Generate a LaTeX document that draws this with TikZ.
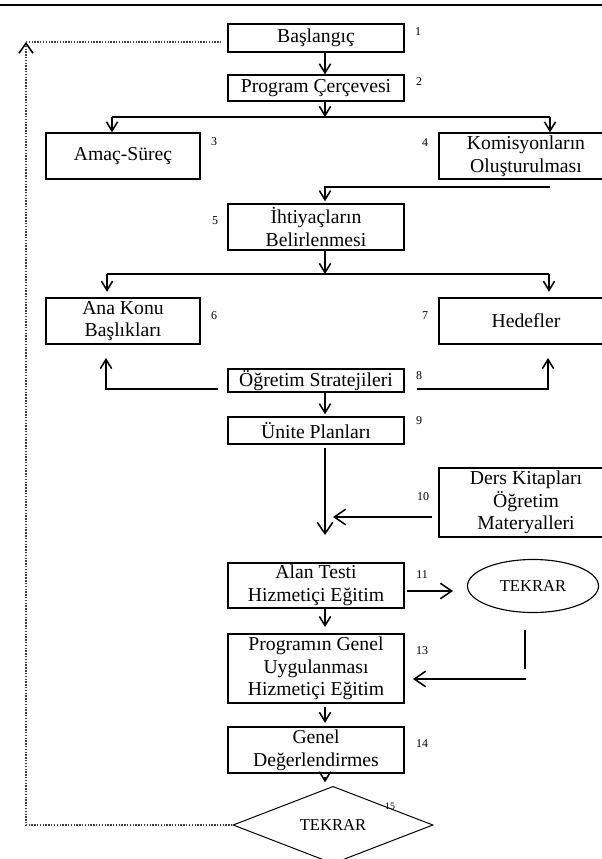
\documentclass[tikz,border=0pt]{standalone}
\usepackage{fontspec}
\setmainfont{Liberation Serif}
\usetikzlibrary{arrows.meta, shapes.geometric}

\begin{document}
\begin{tikzpicture}[x=0.025cm, y=-0.025cm,
    box/.style={draw, line width=0.9pt, inner sep=0pt, align=center,
        font=\fontsize{14}{16.2}\selectfont},
    num/.style={inner sep=0pt, font=\fontsize{8.5}{9}\selectfont},
    arr/.style={line width=1.1pt, -{Straight Barb[length=6.5pt, width=8pt, line width=1.1pt]}},
    bigarr/.style={line width=1.1pt, -{Straight Barb[length=8pt, width=11pt, line width=1.1pt]}},
    fb/.style={line width=1pt, densely dotted, black!75}]

    \useasboundingbox (0,0) rectangle (602,859);

    % Top rule
    \draw[line width=1.4pt] (0,5) -- (602,5);

    % Boxes
    \node[box, minimum width=4.4cm, minimum height=0.7cm] (bas) at (316,38) {Başlangıç};
    \node[box, minimum width=4.4cm, minimum height=0.65cm] (cerceve) at (316,88) {Program Çerçevesi};
    \node[box, minimum width=3.85cm, minimum height=1.15cm] (amac) at (123,156) {Amaç-Süreç};
    \node[box, minimum width=4.35cm, minimum height=1.15cm] (komisyon) at (526,156) {Komisyonların\\Oluşturulması};
    \node[box, minimum width=4.4cm, minimum height=1.15cm] (ihtiyac) at (316,227) {İhtiyaçların\\Belirlenmesi};
    \node[box, minimum width=3.85cm, minimum height=1.15cm] (konu) at (123,321) {Ana Konu\\Başlıkları};
    \node[box, minimum width=4.35cm, minimum height=1.15cm] (hedef) at (526,321) {Hedefler};
    \node[box, minimum width=4.4cm, minimum height=0.575cm] (strateji) at (316,380.5) {Öğretim Stratejileri};
    \node[box, minimum width=4.4cm, minimum height=0.675cm] (unite) at (316,430.5) {Ünite Planları};
    \node[box, minimum width=4.35cm, minimum height=1.725cm] (kitap) at (526,502.5) {Ders Kitapları\\Öğretim\\Materyalleri};
    \node[box, minimum width=4.4cm, minimum height=1.125cm] (alan) at (316,585.5) {Alan Testi\\Hizmetiçi Eğitim};
    \node[draw, ellipse, line width=0.8pt, minimum width=3.275cm, minimum height=1.325cm, inner sep=0pt,
        font=\fontsize{11.8}{13}\selectfont] (tekrar) at (533,586) {TEKRAR};
    \node[box, minimum width=4.4cm, minimum height=1.725cm] (uygulama) at (316,668.5) {Programın Genel\\Uygulanması\\Hizmetiçi Eğitim};
    \node[box, minimum width=4.4cm, minimum height=1.15cm] (genel) at (316,750) {Genel\\Değerlendirmes};
    \node[draw, diamond, line width=0.7pt, minimum width=5cm, minimum height=1.3cm, inner sep=0pt,
        font=\fontsize{11.8}{13}\selectfont] (karar) at (333,825) {TEKRAR};

    % Step numbers
    \foreach \n/\x/\y in {1/418/32, 2/419/82, 3/214/142, 4/425/143, 5/215/221, 6/214/316,
        7/425/316, 8/419/376, 9/419/421, 10/423/497, 11/422/575, 13/422/651, 14/422/744}
        \node[num] (n\n) at (\x,\y) {\n};
    \node[num, font=\fontsize{7}{8}\selectfont] (n15) at (390,806) {15};

    % Main column
    \coordinate (spine) at (325,0);
    \draw[arr] (bas.south -| spine) -- (cerceve.north -| spine);

    % Split under Program Cercevesi
    \coordinate (s1) at (325,117);
    \coordinate (s1l) at (112,117);
    \coordinate (s1r) at (550,117);
    \draw[arr] (cerceve.south -| spine) -- (s1);
    \draw[line width=1.1pt] (s1l) -- (s1r);
    \draw[arr] (s1l) -- (s1l |- amac.north);
    \draw[arr] (s1r) -- (s1r |- komisyon.north);

    % Komisyonlar to Ihtiyaclar
    \coordinate (k1) at (550,187);
    \draw[arr, shorten >=1.5pt] (k1) -| (ihtiyac.north -| spine);

    % Split under Ihtiyaclar
    \coordinate (s2) at (325,274);
    \coordinate (s2l) at (107,274);
    \coordinate (s2r) at (549,274);
    \draw[arr] (ihtiyac.south -| spine) -- (s2);
    \draw[line width=1.1pt] (s2l) -- (s2r);
    \draw[arr, shorten >=4pt] (s2l) -- (s2l |- konu.north);
    \draw[arr, shorten >=4pt] (s2r) -- (s2r |- hedef.north);

    % Ogretim Stratejileri to both sides
    \coordinate (o1) at (218,389);
    \coordinate (o1t) at (106,358);
    \coordinate (o2) at (417,389);
    \coordinate (o2t) at (548,358);
    \draw[arr] (o1) -| (o1t);
    \draw[arr] (o2) -| (o2t);
    \draw[arr, shorten >=1.5pt] (strateji.south -| spine) -- (unite.north -| spine);

    % Unite Planlari, Ders Kitaplari
    \coordinate (u1) at (325,448);
    \coordinate (u2) at (325,535);
    \draw[bigarr] (u1) -- (u2);
    \coordinate (d1) at (432,517);
    \coordinate (d2) at (333,517);
    \draw[bigarr] (d1) -- (d2);

    % Alan Testi and TEKRAR
    \coordinate (a1) at (407,591);
    \coordinate (a2) at (453,591);
    \draw[bigarr] (a1) -- (a2);
    \draw[arr, shorten >=4.5pt] (alan.south -| spine) -- (uygulama.north -| spine);
    \coordinate (r1) at (525,630);
    \coordinate (r2) at (525,669);
    \coordinate (r3) at (526,679);
    \coordinate (r4) at (413,679);
    \draw[line width=1.1pt] (r1) -- (r2);
    \draw[bigarr] (r3) -- (r4);

    % Lower column
    \draw[arr, shorten <=2.5pt, shorten >=2.5pt] (uygulama.south -| spine) -- (genel.north -| spine);
    \draw[arr, shorten <=2.5pt, shorten >=2.5pt] (genel.south -| spine) -- (spine |- karar.north);

    % Feedback loop
    \coordinate (f1) at (26,42);
    \coordinate (f2) at (221,42);
    \draw[fb, -{Straight Barb[black, length=7pt, width=10pt, line width=1.1pt]}] (karar.west) -| (f1);
    \draw[fb] (f1) -- (f2);

\end{tikzpicture}
\end{document}
